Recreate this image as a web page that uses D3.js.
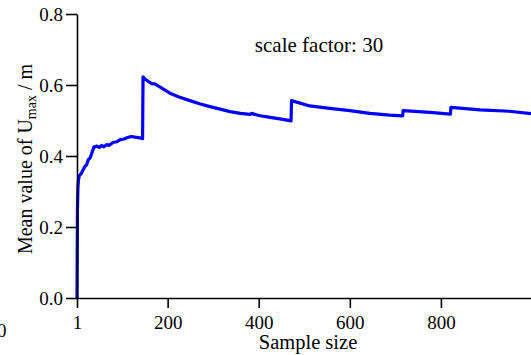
<!DOCTYPE html>
<html><head><meta charset="utf-8">
<script src="https://cdn.jsdelivr.net/npm/d3@7"></script>
<style>body{margin:0;background:#fff}svg{display:block}svg text{font-family:"Liberation Serif","Times New Roman",Tinos,"DejaVu Serif",serif !important;fill:#000}</style>
</head><body><svg id="c" width="531" height="355"></svg>
<script>
const sampleSize = [1,2,3,4,6,10,14,18,22,26,30,34,38,45,50,55,60,66,72,80,88,96,104,112,120,128,136,145,
 146,150,160,165,172,190,205,225,249,270,293,315,337,360,381,384,400,425,450,471,
 472,512,556,600,644,688,716,717,776,821,822,886,950,1000];
const meanUmax = [0,0.25,0.31,0.33,0.345,0.35,0.36,0.37,0.375,0.39,0.395,0.41,0.425,0.428,0.424,0.43,0.426,0.432,0.43,0.438,0.44,0.446,0.448,0.452,0.455,0.453,0.452,0.449,
 0.623,0.617,0.608,0.604,0.603,0.589,0.577,0.566,0.556,0.547,0.539,0.532,0.525,0.52,0.517,0.52,0.514,0.509,0.504,0.499,
 0.556,0.541,0.534,0.528,0.52,0.515,0.513,0.528,0.523,0.518,0.537,0.530,0.526,0.519];
const xTicks = [1,200,400,600,800];
const yTicks = [0,0.2,0.4,0.6,0.8];
const annotation = "scale factor: 30";

const svg = d3.select("#c");
const x = d3.scaleLinear().domain([1,1000]).range([77,532]);
const y = d3.scaleLinear().domain([0,0.8]).range([298,14]);

const line = d3.line().x((d,i)=>x(sampleSize[i])).y(d=>y(d));
svg.append("path").datum(meanUmax).attr("d",line)
  .attr("fill","none").attr("stroke","#0000ff").attr("stroke-width",3.2).attr("stroke-linejoin","round");

const xa = svg.append("g").attr("transform","translate(0,298)")
  .call(d3.axisBottom(x).tickValues(xTicks).tickFormat(d3.format("d")).tickSize(10).tickSizeOuter(0));
const ya = svg.append("g").attr("transform","translate(77,0)")
  .call(d3.axisLeft(y).tickValues(yTicks).tickFormat(d3.format(".1f")).tickSize(11).tickSizeOuter(0));
[xa,ya].forEach(g=>{
  g.attr("font-family",null);
  g.select(".domain").attr("stroke","#000").attr("stroke-width",1.6);
  g.selectAll(".tick line").attr("stroke","#000").attr("stroke-width",1.6);
  g.selectAll(".tick text").style("font-size","19px").attr("fill","#000");
});
xa.selectAll(".tick text").attr("dy",0).attr("y",31);
ya.selectAll(".tick text").attr("x",-14).attr("dy","0.33em");

svg.append("text").attr("x",308).attr("y",349).attr("text-anchor","middle").style("font-size","20.5px").text("Sample size");
const yl = svg.append("text").attr("transform","translate(32,159) rotate(-90)").attr("text-anchor","middle").style("font-size","20px");
yl.append("tspan").text("Mean value of U");
yl.append("tspan").attr("dy",4).style("font-size","14px").text("max");
yl.append("tspan").attr("dy",-4).text(" / m");

svg.append("text").attr("x",319).attr("y",52).attr("text-anchor","middle").style("font-size","21px").text(annotation);
svg.append("text").attr("x",-3).attr("y",337).style("font-size","19px").text("0");
</script></body></html>
